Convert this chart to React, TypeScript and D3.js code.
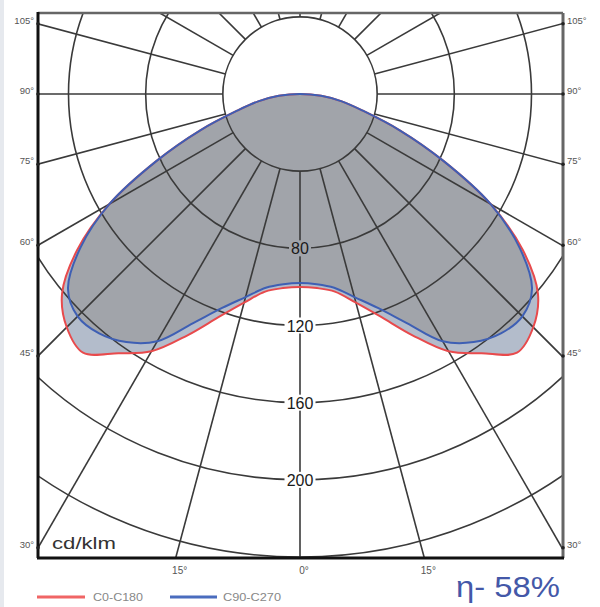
import React from "react";
import * as d3 from "d3";

// Polar angles (deg from nadir) and intensities (cd/klm)
const angles = [0, 5, 10, 15, 20, 25, 30, 35, 40, 45, 50, 55, 60, 65, 70, 75, 80, 85, 90];
const c0c180 = [100, 101, 104, 112, 123, 138, 154, 164, 175, 171, 161, 141, 114, 82, 55, 34, 22, 11, 0];
const c90c270 = [98, 99, 102, 109, 118, 131, 148, 157, 162, 163, 157, 139, 114, 82, 55, 34, 22, 11, 0];

const ringValues = [40, 80, 120, 160, 200, 240, 280];
const ringLabels = ["80", "120", "160", "200"];
const ringLabelValues = [80, 120, 160, 200];
const spokeAngles = d3.range(0, 360, 15);
const sideAngles = [105, 90, 75, 60, 45, 30];
const sideLabels = ["105°", "90°", "75°", "60°", "45°", "30°"];
const bottomAngles = [15, 0, -15];
const bottomLabels = ["15°", "0°", "15°"];
const legendNames = ["C0-C180", "C90-C270"];
const efficiencyText = "η- 58%";

const W = 600, H = 607;
const CX = 300, CY = 94;
const FL = 38, FR = 563, FT = 13, FB = 558;

const r = d3.scaleLinear().domain([0, 240]).range([0, 463]);
const toRad = (d: number) => (d * Math.PI) / 180;

function curvePath(vals: number[]) {
  const pts: [number, number][] = [];
  for (let i = angles.length - 1; i >= 0; i--) pts.push([Math.PI + toRad(angles[i]), r(vals[i])]);
  for (let i = 1; i < angles.length - 1; i++) pts.push([Math.PI - toRad(angles[i]), r(vals[i])]);
  const line = d3
    .lineRadial<[number, number]>()
    .angle((d) => d[0])
    .radius((d) => d[1])
    .curve(d3.curveCatmullRomClosed.alpha(0.5));
  return line(pts) || "";
}

export default function App() {
  const font = "'Liberation Sans', Arial, sans-serif";
  const redPath = curvePath(c0c180);
  const bluePath = curvePath(c90c270);
  const grid = "#3a3a3a";
  return (
    <svg width={W} height={H} style={{ position: "absolute", left: 0, top: 0, background: "#fff" }}>
      <defs>
        <clipPath id="frame">
          <rect x={FL} y={FT} width={FR - FL} height={FB - FT} />
        </clipPath>
      </defs>
      <rect x={0} y={0} width={4} height={H} fill="#e6e9ee" />
      <g clipPath="url(#frame)">
        <g transform={`translate(${CX},${CY})`}>
          <path d={redPath} fill="#b3bccb" />
          <path d={bluePath} fill="#a1a4aa" />
        </g>
        {ringValues.map((v) => (
          <circle key={v} cx={CX} cy={CY} r={r(v)} fill="none" stroke={grid} strokeWidth={1.6} />
        ))}
        {spokeAngles.map((a) => {
          const t = toRad(a);
          const x1 = CX - r(40) * Math.sin(t), y1 = CY + r(40) * Math.cos(t);
          const x2 = CX - 900 * Math.sin(t), y2 = CY + 900 * Math.cos(t);
          return <line key={a} x1={x1} y1={y1} x2={x2} y2={y2} stroke={grid} strokeWidth={1.6} />;
        })}
        <g transform={`translate(${CX},${CY})`}>
          <path d={redPath} fill="none" stroke="#e84a4c" strokeWidth={2} />
          <path d={bluePath} fill="none" stroke="#3e5fb4" strokeWidth={2} />
        </g>
        {ringLabelValues.map((v, i) => {
          const y = CY + r(v);
          const inside = v < c0c180[0];
          const w = ringLabels[i].length * 9 + 4;
          return (
            <g key={v}>
              <rect x={CX - w / 2} y={y - 8} width={w} height={16} fill={inside ? "#a1a4aa" : "#fff"} />
              <text x={CX} y={y + 6} textAnchor="middle" fontFamily={font} fontSize={16} fill="#1a1a1a">
                {ringLabels[i]}
              </text>
            </g>
          );
        })}
        <text x={52} y={549} fontFamily={font} fontSize={17} fill="#333" textLength={64} lengthAdjust="spacingAndGlyphs">cd/klm</text>
      </g>
      <line x1={FL} y1={FT} x2={FR} y2={FT} stroke="#666" strokeWidth={2.5} />
      <line x1={FR} y1={FT} x2={FR} y2={FB} stroke="#666" strokeWidth={3} />
      <line x1={FL} y1={FT - 1} x2={FL} y2={FB} stroke="#111" strokeWidth={3} />
      <line x1={FL - 1} y1={FB} x2={FR + 1} y2={FB} stroke="#111" strokeWidth={3} />
      {sideAngles.map((a, i) => {
        const y = CY + (CX - FL) / Math.tan(toRad(a));
        return (
          <g key={a}>
            <circle cx={FL} cy={y} r={1.8} fill="#222" />
            <circle cx={FR} cy={y} r={1.8} fill="#222" />
            <text x={FL - 4} y={y} textAnchor="end" fontFamily={font} fontSize={9.5} fill="#555">
              {sideLabels[i]}
            </text>
            <text x={FR + 4} y={y} textAnchor="start" fontFamily={font} fontSize={9.5} fill="#555">
              {sideLabels[i]}
            </text>
          </g>
        );
      })}
      {bottomAngles.map((a, i) => {
        const x = CX - (FB - CY) * Math.tan(toRad(a));
        return (
          <text key={i} x={x + 4} y={FB + 16} textAnchor="middle" fontFamily={font} fontSize={10} fill="#555">
            {bottomLabels[i]}
          </text>
        );
      })}
      <line x1={37} y1={597} x2={85} y2={597} stroke="#f06565" strokeWidth={3} />
      <text x={93} y={601} fontFamily={font} fontSize={11} fill="#888" textLength={50} lengthAdjust="spacingAndGlyphs">{legendNames[0]}</text>
      <line x1={170} y1={597} x2={217} y2={597} stroke="#4a6cbe" strokeWidth={3} />
      <text x={223} y={601} fontFamily={font} fontSize={11} fill="#888" textLength={58} lengthAdjust="spacingAndGlyphs">{legendNames[1]}</text>
      <text x={456} y={597} fontFamily={font} fontSize={30} fill="#4458a8" textLength={104} lengthAdjust="spacingAndGlyphs">{efficiencyText}</text>
    </svg>
  );
}
